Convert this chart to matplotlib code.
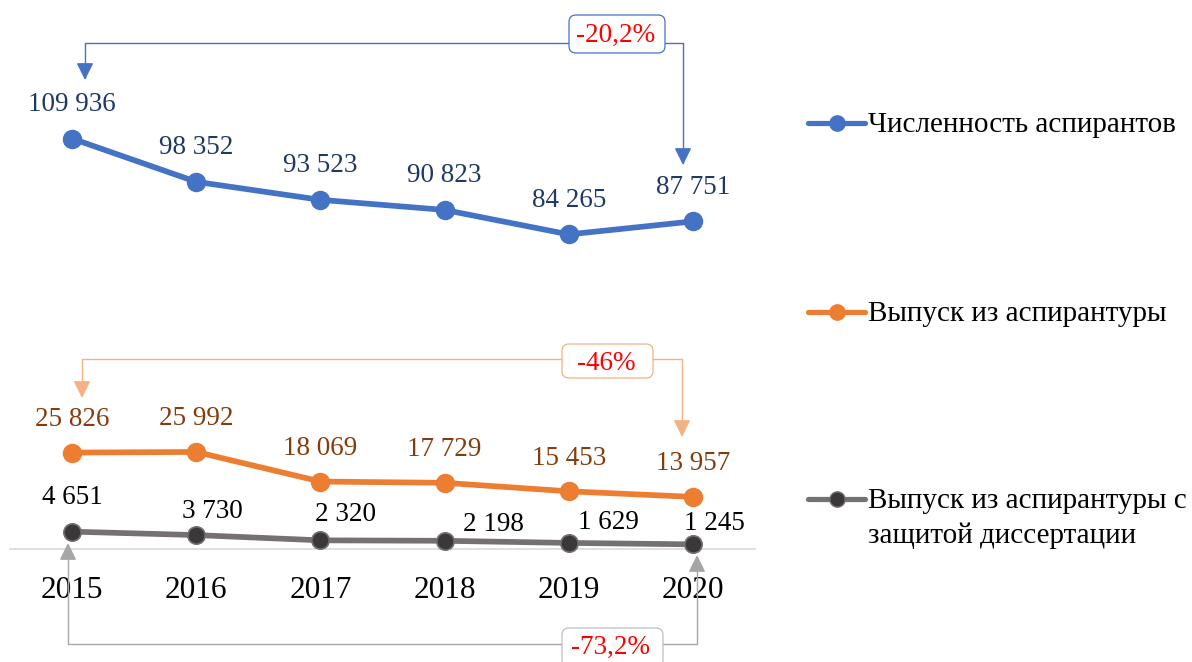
import matplotlib
matplotlib.use("Agg")
import matplotlib.pyplot as plt
from matplotlib.patches import FancyArrowPatch, FancyBboxPatch
from matplotlib.path import Path
from matplotlib.transforms import IdentityTransform
from matplotlib.lines import Line2D

plt.rcParams['font.family'] = ['Liberation Serif', 'DejaVu Serif']

# ---- data ----
years = ["2015", "2016", "2017", "2018", "2019", "2020"]
students = [109936, 98352, 93523, 90823, 84265, 87751]
graduates = [25826, 25992, 18069, 17729, 15453, 13957]
graduates_defended = [4651, 3730, 2320, 2198, 1629, 1245]
series_names = ["Численность аспирантов",
                "Выпуск из аспирантуры",
                "Выпуск из аспирантуры с\nзащитой диссертации"]
changes = ["-20,2%", "-46%", "-73,2%"]

def fmt(v):
    return f"{v:,}".replace(",", " ")

W, H = 1192, 662
DPI = 100
fig = plt.figure(figsize=(W / DPI, H / DPI), dpi=DPI)

# axes: x 10..755 px, y 101..549 px (from top)
ax = fig.add_axes([10 / W, (H - 549) / H, 745 / W, 448 / H])
ax.set_xlim(-0.5, 5.5)
ax.set_ylim(0, 120000)
for s in ["left", "right", "top"]:
    ax.spines[s].set_visible(False)
ax.spines["bottom"].set_color("#D9D9D9")
ax.spines["bottom"].set_linewidth(1.2)
ax.set_yticks([])
x = list(range(len(years)))
ax.set_xticks(x)
ax.set_xticklabels(years, fontsize=22.5)
ax.tick_params(axis="x", length=0, pad=19.5)

BLUE, ORANGE, GREY = "#4472C4", "#ED7D31", "#767171"
LW, MS = 4.1, 13
ax.plot(x, students, color=BLUE, lw=LW, marker="o", ms=MS, zorder=3, clip_on=False)
ax.plot(x, graduates, color=ORANGE, lw=LW, marker="o", ms=MS, zorder=3, clip_on=False)
ax.plot(x, graduates_defended, color=GREY, lw=LW, marker="o", ms=MS - 0.5,
        mfc="#3A3838", mec=GREY, mew=1.2, zorder=3, clip_on=False)

LBL = 19.5
for xi, v in zip(x, students):
    ax.annotate(fmt(v), (xi, v), xytext=(0, 34), textcoords="offset pixels",
                ha="center", va="center", fontsize=LBL, color="#1F3864")
for xi, v in zip(x, graduates):
    ax.annotate(fmt(v), (xi, v), xytext=(0, 33), textcoords="offset pixels",
                ha="center", va="center", fontsize=LBL, color="#843C0C")
grey_offsets = [(0, 34), (16, 24), (25, 26), (49, 16), (40, 20), (22, 21)]
for xi, v, (dx, dy) in zip(x, graduates_defended, grey_offsets):
    ax.annotate(fmt(v), (xi, v), xytext=(dx, dy), textcoords="offset pixels",
                ha="center", va="center", fontsize=LBL, color="black")

# ---- brackets with arrows (pixel coords, origin top-left) ----
ident = IdentityTransform()

def bracket(pts, color):
    verts = [(px, H - py) for px, py in pts]
    codes = [Path.MOVETO] + [Path.LINETO] * (len(verts) - 1)
    p = FancyArrowPatch(path=Path(verts, codes),
                        arrowstyle="<|-|>,head_length=10.5,head_width=5.2",
                        mutation_scale=1, color=color, lw=1.0,
                        transform=ident, shrinkA=0, shrinkB=0)
    fig.add_artist(p)

def box(x0, y0, x1, y1, edge, text, tx, ty):
    b = FancyBboxPatch((x0, H - y1), x1 - x0, y1 - y0,
                       boxstyle="round,pad=0,rounding_size=7",
                       fc="white", ec=edge, lw=0.9, transform=ident, zorder=5)
    fig.add_artist(b)
    fig.text(tx / W, 1 - ty / H, text, ha="center", va="center",
             fontsize=LBL, color="#FF0000", zorder=6)

bracket([(85, 80), (85, 43), (683, 43), (683, 165)], BLUE)
box(569, 15, 665, 53, BLUE, changes[0], 616, 35)
bracket([(82, 398), (82, 359), (682, 359), (682, 437)], "#F4B183")
box(562, 344, 653, 378, "#F4B183", changes[1], 606, 363)
bracket([(68, 543), (68, 644), (697, 644), (697, 555)], "#A6A6A6")
box(562, 628, 663, 668, "#BFBFBF", changes[2], 611, 647)

# ---- legend (manual) ----
leg = [(BLUE, BLUE, BLUE, 123), (ORANGE, ORANGE, ORANGE, 312), (GREY, "#3A3838", GREY, 499)]
for (lc, mfc, mec, yc), name in zip(leg, series_names):
    ln = Line2D([808 / W, 865 / W], [1 - yc / H, 1 - yc / H], color=lc, lw=3.75,
                transform=fig.transFigure, solid_capstyle="round")
    fig.add_artist(ln)
    mk = Line2D([837 / W], [1 - yc / H], marker="o", ms=11, mfc=mfc, mec=mec,
                mew=1.0, transform=fig.transFigure, ls="none")
    fig.add_artist(mk)
    lines = name.split("\n")
    for i, t in enumerate(lines):
        fig.text(868 / W, 1 - (yc + 2 + i * 35) / H, t, ha="left", va="center",
                 fontsize=21, color="black")

fig.savefig("out.png", dpi=DPI)
